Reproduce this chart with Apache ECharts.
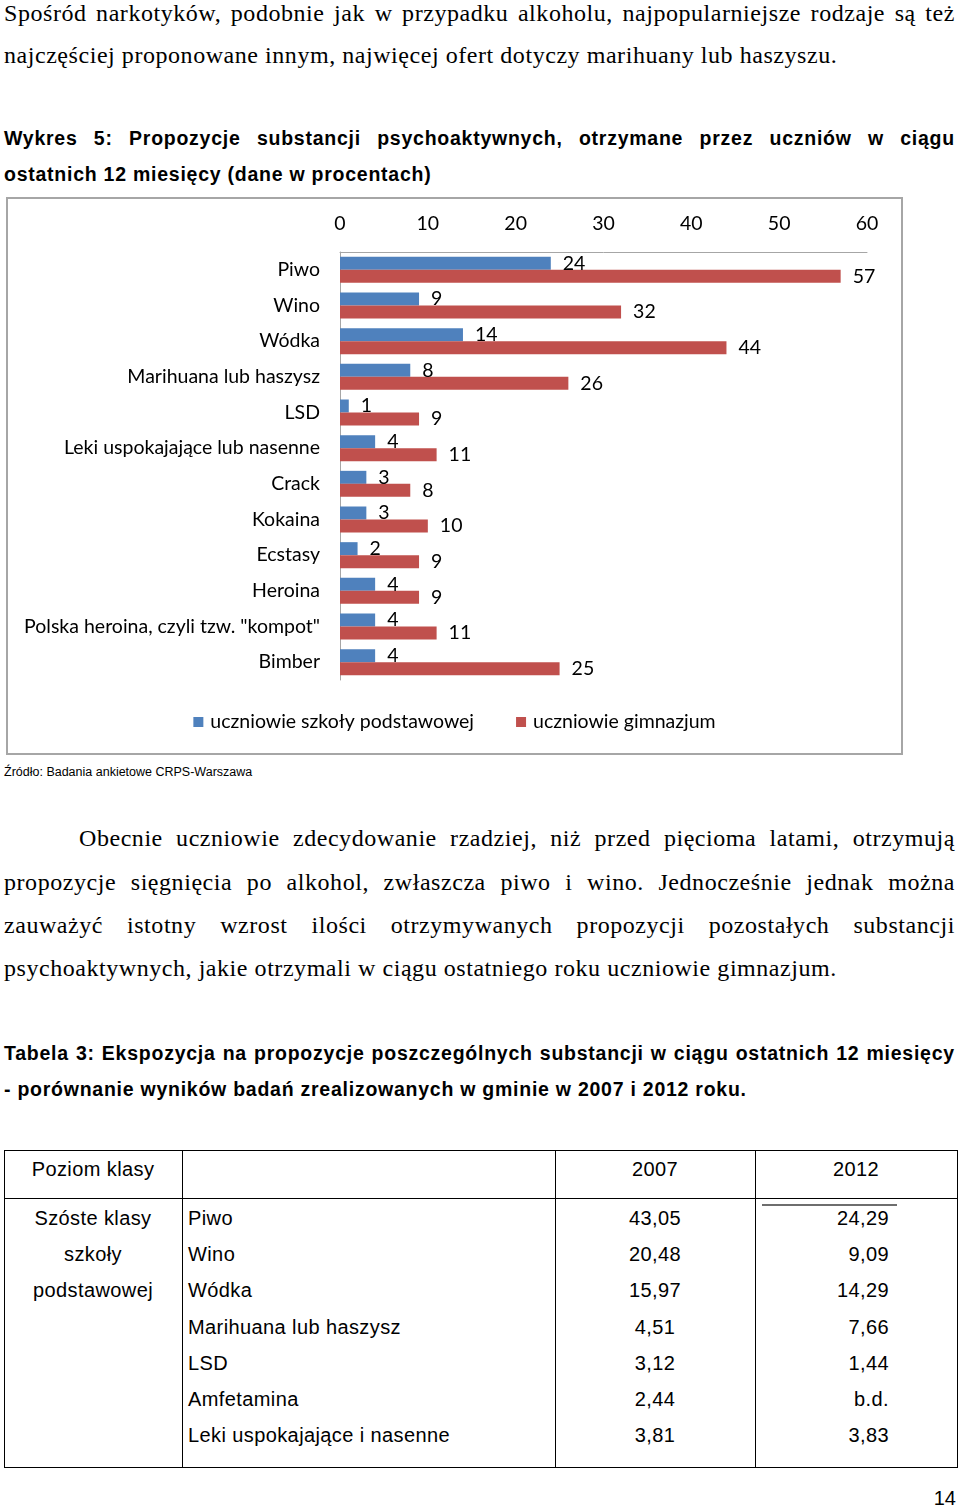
<!DOCTYPE html>
<html><head><meta charset="utf-8">
<script src="https://cdn.jsdelivr.net/npm/echarts@6/dist/echarts.min.js"></script>
<style>
html,body{margin:0;padding:0;background:#fff;}
body{width:960px;height:1509px;position:relative;overflow:hidden;color:#000;}
.serif{font-family:"Liberation Serif","Times New Roman",serif;font-size:24px;letter-spacing:0.55px;}
.bold{font-family:"Liberation Sans",Arial,sans-serif;font-weight:bold;font-size:19.5px;letter-spacing:0.75px;}
.ln{position:absolute;left:4px;width:951px;height:30px;line-height:30px;white-space:nowrap;}
.just{display:flex;justify-content:space-between;}
.tbl{font-family:"Liberation Sans",Arial,sans-serif;font-size:20px;letter-spacing:0.4px;position:absolute;white-space:nowrap;height:30px;line-height:30px;}
.hl{position:absolute;background:#000;height:1px;}
.vl{position:absolute;background:#000;width:1px;}
#chart{position:absolute;left:6px;top:197px;width:897px;height:558px;border:2px solid #a6a6a6;box-sizing:border-box;}
</style></head>
<body>
<div id="chart"></div>
<div id="text"></div>
<script>
// ---- chart data ----
const categories = ["Piwo","Wino","Wódka","Marihuana lub haszysz","LSD","Leki uspokajające lub nasenne","Crack","Kokaina","Ecstasy","Heroina","Polska heroina, czyli tzw. \"kompot\"","Bimber"];
const primaryValues = [24,9,14,8,1,4,3,3,2,4,4,4];
const gymnasiumValues = [57,32,44,26,9,11,8,10,9,9,11,25];
const seriesNames = ["uczniowie szkoły podstawowej","uczniowie gimnazjum"];
const axisTicks = [0,10,20,30,40,50,60];

// ---- table data ----
const tableHeader = ["Poziom klasy","","2007","2012"];
const groupLabel = ["Szóste klasy","szkoły","podstawowej"];
const tableItems = ["Piwo","Wino","Wódka","Marihuana lub haszysz","LSD","Amfetamina","Leki uspokajające i nasenne"];
const values2007 = ["43,05","20,48","15,97","4,51","3,12","2,44","3,81"];
const values2012 = ["24,29","9,09","14,29","7,66","1,44","b.d.","3,83"];

// ---- text ----
const textBlocks = [
  {cls:"serif", y:13, just:true, t:"Spośród narkotyków, podobnie jak w przypadku alkoholu, najpopularniejsze rodzaje są też"},
  {cls:"serif", y:55, t:"najczęściej proponowane innym,  najwięcej ofert dotyczy marihuany lub haszyszu."},
  {cls:"bold", y:138, just:true, t:"Wykres 5: Propozycje substancji psychoaktywnych, otrzymane przez uczniów w ciągu"},
  {cls:"bold", y:174, t:"ostatnich 12 miesięcy (dane w procentach)"},
  {cls:"serif", y:838, just:true, indent:75, t:"Obecnie uczniowie zdecydowanie rzadziej, niż przed pięcioma latami, otrzymują"},
  {cls:"serif", y:882, just:true, t:"propozycje sięgnięcia po alkohol, zwłaszcza piwo i wino. Jednocześnie jednak można"},
  {cls:"serif", y:925, just:true, t:"zauważyć istotny wzrost ilości otrzymywanych propozycji pozostałych substancji"},
  {cls:"serif", y:968, t:"psychoaktywnych, jakie otrzymali w ciągu ostatniego roku uczniowie gimnazjum."},
  {cls:"bold", y:1053, just:true, t:"Tabela 3: Ekspozycja na propozycje poszczególnych substancji w ciągu ostatnich 12 miesięcy"},
  {cls:"bold", y:1089, t:"- porównanie wyników badań zrealizowanych w gminie w 2007 i 2012 roku."}
];
const T = document.getElementById('text');
textBlocks.forEach(b=>{
  const d=document.createElement('div');
  d.className='ln '+b.cls+(b.just?' just':'');
  d.style.top=(b.y-15)+'px';
  if(b.indent){d.style.left=(4+b.indent)+'px';d.style.width=(951-b.indent)+'px';}
  if(b.just){ b.t.split(/\s+/).forEach(w=>{const s=document.createElement('span');s.textContent=w;d.appendChild(s);}); }
  else d.textContent=b.t;
  T.appendChild(d);
});
const src=document.createElement('div');
src.style.cssText='position:absolute;left:4px;top:764px;font-family:"Liberation Sans",Arial,sans-serif;font-size:12.5px;line-height:16px;white-space:nowrap;';
src.textContent='Źródło: Badania ankietowe CRPS-Warszawa';
T.appendChild(src);
const pg=document.createElement('div');
pg.style.cssText='position:absolute;left:930px;top:1486px;width:26px;text-align:right;font-family:"Liberation Sans",Arial,sans-serif;font-size:20px;line-height:24px;';
pg.textContent='14';
T.appendChild(pg);

// table
function addText(txt,x,y,w,align){const d=document.createElement('div');d.className='tbl';d.style.left=x+'px';d.style.top=(y-15)+'px';d.style.width=w+'px';d.style.textAlign=align;d.textContent=txt;T.appendChild(d);}
function hline(x,y,w,c,h){const d=document.createElement('div');d.className='hl';d.style.cssText+=`left:${x}px;top:${y}px;width:${w}px;`+(c?`background:${c};`:'')+(h?`height:${h}px;`:'');T.appendChild(d);}
function vline(x,y,h){const d=document.createElement('div');d.className='vl';d.style.cssText+=`left:${x}px;top:${y}px;height:${h}px;`;T.appendChild(d);}
const tx=[4,182,555,755,957], tTop=1150, tHead=1198, tBot=1467;
hline(tx[0],tTop,tx[4]-tx[0]+1); hline(tx[0],tHead,tx[4]-tx[0]+1); hline(tx[0],tBot,tx[4]-tx[0]+1);
tx.forEach(x=>vline(x,tTop,tBot-tTop+1));
hline(762,1204,135,'#6e6e6e',2);
addText(tableHeader[0],tx[0],1169,178,'center');
addText(tableHeader[2],tx[2],1169,200,'center');
addText(tableHeader[3],tx[3],1169,202,'center');
const rowY=[1218,1254,1290,1327,1363,1399,1435];
groupLabel.forEach((g,i)=>addText(g,tx[0],rowY[i],178,'center'));
tableItems.forEach((t,i)=>{
  addText(t,188,rowY[i],360,'left');
  addText(values2007[i],tx[2],rowY[i],200,'center');
  addText(values2012[i],tx[3],rowY[i],134,'right');
});

// ---- chart ----
const chart = echarts.init(document.getElementById('chart'), null, {renderer:'canvas'});
const FS = 19.5;
const lbl = {show:true, position:'right', distance:12, color:'#000', fontFamily:'Lato', fontSize:FS};
chart.setOption({
  animation:false,
  textStyle:{fontFamily:'Lato'},
  grid:{left:332, right:34, top:53, height:428, containLabel:false},
  legend:{top:508, left:'center', icon:'rect', itemWidth:10, itemHeight:10, itemGap:42,
    textStyle:{fontFamily:'Lato', fontSize:FS, color:'#000', padding:[0,0,0,2]}, data:seriesNames},
  xAxis:{type:'value', position:'top', min:axisTicks[0], max:axisTicks[axisTicks.length-1], interval:10,
    axisLine:{show:true, lineStyle:{color:'#a6a6a6', width:1}}, axisTick:{show:false}, splitLine:{show:false},
    axisLabel:{margin:18, color:'#000', fontFamily:'Lato', fontSize:FS}},
  yAxis:{type:'category', inverse:true, data:categories,
    axisLine:{show:true, lineStyle:{color:'#a6a6a6', width:1}}, axisTick:{show:false},
    axisLabel:{margin:20, color:'#000', fontFamily:'Lato', fontSize:FS}},
  series:[
    {name:seriesNames[0], type:'bar', data:primaryValues, barWidth:13, barGap:'0%', itemStyle:{color:'#4F81BD'}, label:lbl},
    {name:seriesNames[1], type:'bar', data:gymnasiumValues, barWidth:13, barGap:'0%', itemStyle:{color:'#C0504D'}, label:lbl}
  ]
});
</script>
</body></html>
